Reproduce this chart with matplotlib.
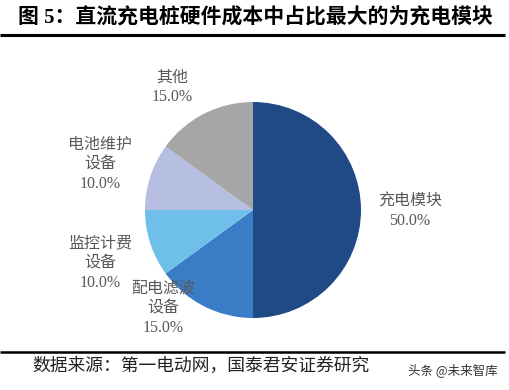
import matplotlib.pyplot as plt
import numpy as np

# data
categories = ['充电模块', '配电滤波\n设备', '监控计费\n设备', '电池维护\n设备', '其他']
shares = [50.0, 15.0, 10.0, 10.0, 15.0]
colors = ['#1f4a86', '#3a7cc5', '#6ec0ea', '#b6bee2', '#a6a6a6']

# label centres in pixel coords (layout only)
label_pos = [(410, 211), (163, 308), (100, 263), (100, 164), (172, 87)]

title = '图 5：直流充电桩硬件成本中占比最大的为充电模块'
source = '数据来源：第一电动网，国泰君安证券研究'
mark = '头条 @未来智库'

W, H = 509, 390
fig = plt.figure(figsize=(W / 100, H / 100), dpi=100)
ax = fig.add_axes([0, 0, 1, 1])

ax.pie(shares, colors=colors, startangle=90, counterclock=False,
       center=(253, H - 210), radius=108, frame=True,
       wedgeprops=dict(linewidth=0))
ax.set_xlim(0, W)
ax.set_ylim(0, H)
ax.set_aspect('equal')
ax.axis('off')

lab_font = ['Liberation Serif', 'Noto Sans CJK SC']
for cat, val, (px, py) in zip(categories, shares, label_pos):
    ax.text(px, H - py, f'{cat}\n{val:.1f}%', ha='center', va='center',
            fontsize=11.5, color='#595959', family=lab_font, linespacing=1.3)

# title and rules
ax.text(18, H - 18, title, ha='left', va='center', fontsize=15, fontweight='bold',
        color='black', family=['Liberation Serif', 'Noto Sans CJK SC'])
ax.plot([0, 505], [H - 35, H - 35], color='black', lw=2.2, solid_capstyle='butt')
ax.plot([0, 505], [H - 352, H - 352], color='black', lw=1.8, solid_capstyle='butt')

ax.text(32, H - 366, source, ha='left', va='center', fontsize=12.8, color='#222222',
        family=['Liberation Serif', 'Noto Sans CJK SC'])
ax.text(498, H - 370, mark, ha='right', va='center', fontsize=9, color='#333333',
        family=['Noto Sans CJK SC', 'DejaVu Sans'])

fig.savefig('out.png', dpi=100)
